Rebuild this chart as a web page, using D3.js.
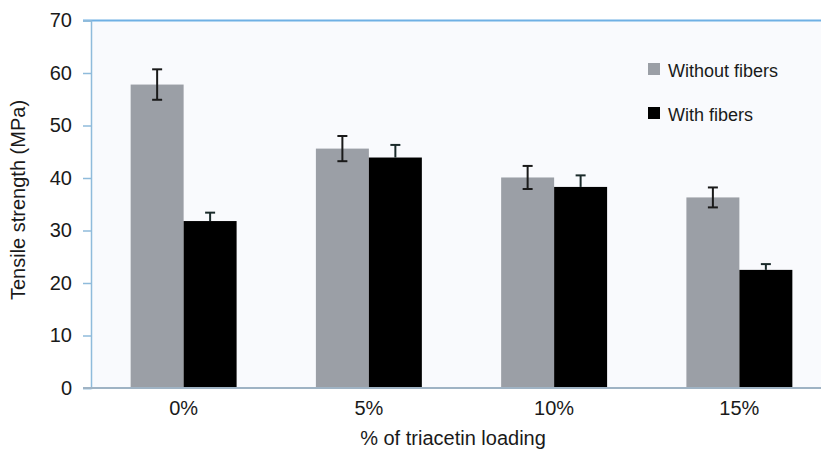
<!DOCTYPE html>
<html><head><meta charset="utf-8">
<script src="https://cdn.jsdelivr.net/npm/d3@7"></script>
<style>body{margin:0;background:#fff}svg{display:block;font-family:"Liberation Sans",Arial,sans-serif}</style>
</head><body>
<svg id="c" width="821" height="453"></svg>
<script>
const categories = ["0%", "5%", "10%", "15%"];
const seriesNames = ["Without fibers", "With fibers"];
const withoutFibers = [57.8, 45.6, 40.1, 36.3];
const withoutFibersErr = [2.9, 2.4, 2.2, 1.9];
const withFibers = [31.8, 43.9, 38.3, 22.5];
const withFibersErr = [1.6, 2.4, 2.2, 1.1];
const yTicks = [0, 10, 20, 30, 40, 50, 60, 70];
const colors = ["#9b9fa6", "#000000"];

(function () {
const svg = d3.select("#c");
const mLeft = 91, mBottom = 388, mTop = 20.5, mRight = 821;
const y = d3.scaleLinear().domain([0, 70]).range([mBottom, mTop]);
const x = d3.scaleBand().domain(categories).range([mLeft, 832]).paddingInner(0.428).paddingOuter(0.214);
const xs = d3.scaleBand().domain(seriesNames).range([0, x.bandwidth()]);
const txt = "#1a1a1a";

// plot background
svg.append("rect").attr("x", mLeft).attr("y", mTop).attr("width", mRight - mLeft).attr("height", mBottom - mTop).attr("fill", "#f9fafd");

const data = categories.map((c, i) => ({c, vals: [
  {s: seriesNames[0], v: withoutFibers[i], e: withoutFibersErr[i], col: colors[0]},
  {s: seriesNames[1], v: withFibers[i], e: withFibersErr[i], col: colors[1]}
]}));

const g = svg.append("g").selectAll("g").data(data).join("g").attr("transform", d => `translate(${x(d.c)},0)`);
g.selectAll("rect").data(d => d.vals).join("rect")
  .attr("x", d => xs(d.s)).attr("width", xs.bandwidth())
  .attr("y", d => y(d.v)).attr("height", d => y(0) - y(d.v))
  .attr("fill", d => d.col);

// error bars
const eb = g.selectAll("g.err").data(d => d.vals).join("g").attr("class", "err")
  .attr("stroke", d => d.col === "#000000" ? "#1a2a2a" : "#1a1a1a").attr("stroke-width", 2);
eb.append("line").attr("x1", d => xs(d.s) + xs.bandwidth()/2).attr("x2", d => xs(d.s) + xs.bandwidth()/2)
  .attr("y1", d => y(d.v + d.e)).attr("y2", d => d.s === seriesNames[1] ? y(d.v) : y(d.v - d.e));
eb.append("line").attr("x1", d => xs(d.s) + xs.bandwidth()/2 - 5).attr("x2", d => xs(d.s) + xs.bandwidth()/2 + 5)
  .attr("y1", d => y(d.v + d.e)).attr("y2", d => y(d.v + d.e));
eb.filter(d => d.s === seriesNames[0]).append("line")
  .attr("x1", d => xs(d.s) + xs.bandwidth()/2 - 5).attr("x2", d => xs(d.s) + xs.bandwidth()/2 + 5)
  .attr("y1", d => y(d.v - d.e)).attr("y2", d => y(d.v - d.e));

// top border
svg.append("line").attr("x1", mLeft - 8).attr("x2", mRight).attr("y1", y(70)).attr("y2", y(70))
  .attr("stroke", "#6fb0e4").attr("stroke-width", 2);

// y axis
const ya = svg.append("g").attr("transform", `translate(${mLeft},0)`)
  .call(d3.axisLeft(y).tickValues(yTicks).tickSize(8).tickPadding(11));
ya.select(".domain").attr("stroke", "#8fbbdb").attr("stroke-width", 1.5);
ya.selectAll(".tick line").attr("stroke", "#8fbbdb").attr("stroke-width", 1.5);
ya.selectAll("text").attr("font-size", 20).attr("fill", txt).attr("font-family", "Liberation Sans, Arial, sans-serif");

// x axis
svg.append("line").attr("x1", mLeft - 8).attr("x2", mRight).attr("y1", mBottom).attr("y2", mBottom)
  .attr("stroke", "#9fb3c4").attr("stroke-width", 2);
const xa = svg.append("g").attr("transform", `translate(0,${mBottom})`)
  .call(d3.axisBottom(x).tickSize(0).tickPadding(13));
xa.select(".domain").remove();
xa.selectAll("text").attr("font-size", 20).attr("fill", txt).attr("font-family", "Liberation Sans, Arial, sans-serif");

// titles
svg.append("text").attr("x", 453).attr("y", 445).attr("text-anchor", "middle")
  .attr("font-size", 20).attr("fill", txt).text("% of triacetin loading");
svg.append("text").attr("transform", "translate(25,200) rotate(-90)").attr("text-anchor", "middle")
  .attr("font-size", 20).attr("fill", txt).text("Tensile strength (MPa)");

// legend
const lg = svg.append("g").selectAll("g").data(seriesNames).join("g")
  .attr("transform", (d, i) => `translate(648,${63 + i * 44})`);
lg.append("rect").attr("width", 12).attr("height", 12).attr("fill", (d, i) => colors[i]);
lg.append("text").attr("x", 20).attr("y", 14).attr("font-size", 18).attr("fill", txt).text(d => d);
})();
</script>
</body></html>
